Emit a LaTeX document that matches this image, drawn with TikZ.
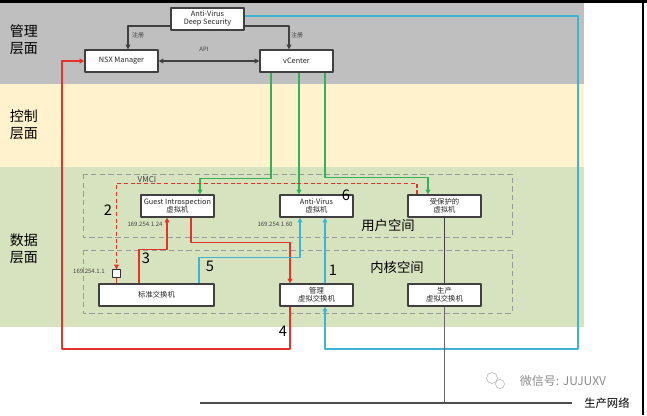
\documentclass[tikz,border=0pt]{standalone}
\usepackage{fontspec}
\newfontfamily\cjk{Noto Sans CJK SC}
\usetikzlibrary{arrows.meta,calc}
\definecolor{guanli}{HTML}{BFBFBF}
\definecolor{kongzhi}{HTML}{FFF2CC}
\definecolor{shuju}{HTML}{D7E3BE}
\definecolor{hong}{HTML}{E5332A}
\definecolor{lan}{HTML}{3DB4D4}
\definecolor{lv}{HTML}{33B158}
\begin{document}
\begin{tikzpicture}[x=0.75pt,y=-0.75pt,font=\cjk, line join=round, >={Triangle[length=3.5pt,width=3.5pt]}]
	\tikzset{
		hezi/.style={draw=black!75,line width=1pt,fill=white,minimum width=54.75pt,minimum height=16.5pt,inner sep=0pt,align=center,text=black!85,font=\cjk\fontsize{5.5}{6}\selectfont},
		xiaozi/.style={text=black!75,inner sep=0pt,font=\cjk\fontsize{4.5}{5}\selectfont},
		cengzi/.style={align=center,inner sep=0pt,font=\cjk\fontsize{10.5}{12.5}\selectfont},
		shuzi/.style={inner sep=0pt,font=\cjk\fontsize{11}{12}\selectfont},
		kongjian/.style={inner sep=0pt,font=\cjk\fontsize{10}{12}\selectfont},
		heixian/.style={draw=black!75,line width=1pt},
		hongxian/.style={draw=hong,line width=1.1pt},
		hongxu/.style={draw=hong,line width=1.1pt,dash pattern=on 3pt off 2pt},
		lanxian/.style={draw=lan,line width=1.1pt},
		lvxian/.style={draw=lv,line width=1.1pt},
		xukuang/.style={draw=black!40,line width=0.7pt,dash pattern=on 4pt off 2.5pt},
	}
	\useasboundingbox (0,0) rectangle (647,415);
	% ceng
	\fill[guanli] (0,3) rectangle (584,84);
	\fill[kongzhi] (0,84) rectangle (584,167);
	\fill[shuju] (0,167) rectangle (584,327);
	\fill[black] (0,0) rectangle (647,3);
	\draw[black,line width=1pt] (643,0) -- (643,415);
	\node[cengzi] (guanlic) at (24,40) {管理\\层面};
	\node[cengzi] (kongzhic) at (24,125) {控制\\层面};
	\node[cengzi] (shujuc) at (24,249) {数据\\层面};
	% kongjian
	\draw[xukuang] (83,174) rectangle (512,237);
	\draw[xukuang] (83,250) rectangle (512,313);
	\node[kongjian] (yonghu) at (388,225) {用户空间};
	\node[kongjian] (neihe) at (397,267) {内核空间};
	\node[xiaozi,font=\cjk\fontsize{6}{7}\selectfont] (vmci) at (147,180) {VMCI};
	% hezi
	\node[hezi] (avds) at (207.5,19) {Anti-Virus\\Deep Security};
	\node[hezi] (nsx) at (121.5,61) {NSX Manager};
	\node[hezi] (vc) at (296.5,61) {vCenter};
	\node[hezi] (gi) at (177.5,206) {Guest Introspection\\虚拟机};
	\node[hezi] (av) at (316.5,206) {Anti-Virus\\虚拟机};
	\node[hezi] (bh) at (444.5,206) {受保护的\\虚拟机};
	\node[hezi,minimum width=86.25pt] (bz) at (156.5,295) {标准交换机};
	\node[hezi] (gl) at (316.5,295) {管理\\虚拟交换机};
	\node[hezi] (sc) at (444.5,295) {生产\\虚拟交换机};
	\node[draw=black!80,line width=0.8pt,fill=white,minimum size=5.5pt,inner sep=0pt] (port) at (116.5,273.5) {};
	% guanli
	\draw[heixian,->] ($(avds.west)+(0,7)$) -| ($(nsx.north)+(6.5,0)$);
	\draw[heixian,->] ($(avds.east)+(0,7)$) -| ($(vc.north)+(-7.5,0)$);
	\draw[heixian,<->] (nsx) -- (vc);
	\node[xiaozi] (zhuce1) at (138,35) {注册};
	\node[xiaozi] (zhuce2) at (297,35) {注册};
	\node[xiaozi] (api) at (204,49) {API};
	% vCenter
	\draw[lvxian,->] ($(vc.south)+(-25.5,0)$) |- ($(gi.north)+(22.5,-16)$) -- ($(gi.north)+(22.5,0)$);
	\draw[lvxian,->] ($(vc.south)+(2.5,0)$) -- ($(av.north)+(-17.5,0)$);
	\draw[lvxian,->] ($(vc.south)+(28.5,0)$) |- ($(bh.north)+(-16.5,-17)$) -- ($(bh.north)+(-16.5,0)$);
	% shuju
	\draw[hongxu,->] ($(bh.north)+(-27.5,0)$) -- ++(0,-11) -| (port.north);
	\draw[hongxian] (port.south) -- (port.south |- bz.north);
	\draw[hongxian,->] ($(bz.north)+(-17.5,0)$) -- ++(0,-34) -| ($(gi.south)+(-10.5,0)$);
	\draw[hongxian,->] ($(gi.south)+(13.5,0)$) -- ++(0,25) -| ($(gl.north)+(-26.5,0)$);
	\draw[lanxian,->] ($(bz.north)+(42.5,0)$) -- ++(0,-26) -| ($(av.south)+(-16.5,0)$);
	\draw[lanxian,->] ($(gl.north)+(8.5,0)$) -- ($(av.south)+(8.5,0)$);
	\draw[heixian] (bh) -- (sc);
	\node[xiaozi] (ip1) at (89,271) {169.254.1.1};
	\node[xiaozi] (ip24) at (145,224) {169.254.1.24};
	\node[xiaozi] (ip60) at (275,224) {169.254.1.60};
	% huilu
	\coordinate (hongjiao) at (62,349);
	\coordinate (lanjiao) at (578,349);
	\draw[hongxian,->] ($(gl.south)+(-26.5,0)$) |- (hongjiao) |- (nsx.west);
	\draw[lanxian,->] ($(avds.east)+(0,-3)$) -| (lanjiao) -| ($(gl.south)+(8.5,0)$);
	% shengchan
	\coordinate (wl1) at (200,403);
	\coordinate (wl2) at (572,403);
	\draw[draw=black!60,line width=1.2pt] (sc.south) -- (sc.south |- wl1);
	\draw[draw=black!70,line width=1.2pt] (wl1) -- (wl2);
	\node[kongjian,anchor=west,font=\cjk\fontsize{8.5}{10}\selectfont] (wangluo) at (584,403) {生产网络};
	% buzhou
	\node[shuzi] (n1) at (333,270) {1};
	\node[shuzi] (n2) at (108,210) {2};
	\node[shuzi] (n3) at (146,258) {3};
	\node[shuzi] (n4) at (283,331) {4};
	\node[shuzi] (n5) at (210,266) {5};
	\node[shuzi] (n6) at (346,195) {6};
	% shuiyin
	\draw[black!25,line width=0.5pt] (492,378) circle (5.5) (500,384) circle (4.5);
	\node[inner sep=0pt,text=black!45,font=\cjk\fontsize{9}{10}\selectfont] (shuiyin) at (563,381) {微信号: JUJUXV};
\end{tikzpicture}
\end{document}
